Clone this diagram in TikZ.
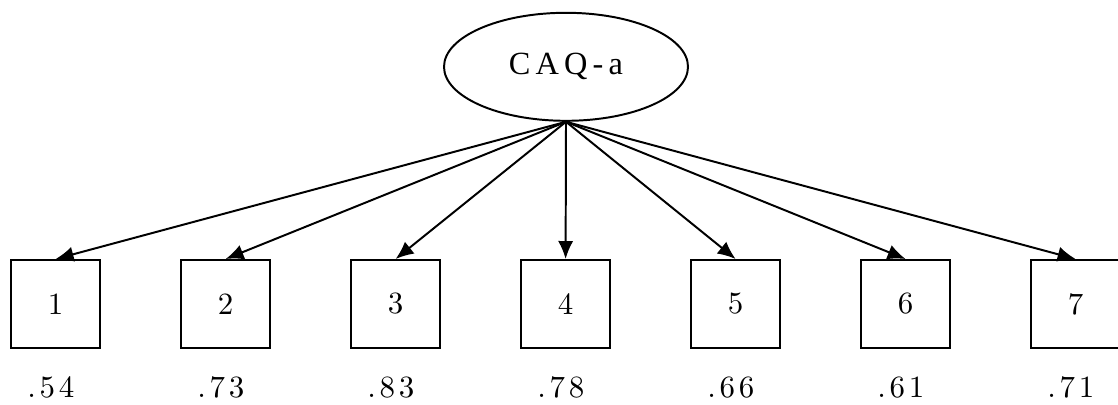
\documentclass[tikz,border=0pt]{standalone}
\usepackage{fontspec}
\usetikzlibrary{positioning,arrows.meta,shapes.geometric}
\setmainfont{lmroman10-regular.otf}
\newfontfamily\loadfont[LetterSpace=12]{lmroman10-regular.otf}
\newfontfamily\latentfont[LetterSpace=16]{Liberation Serif}
\newcommand{\caqitem}[3]{%
  \node[draw=black,line width=1.4pt,minimum width=2.225cm,minimum height=2.2cm,
        inner sep=0pt,font=\fontsize{22}{26}\selectfont] (i#1) at (#2,2.5) {#1};
  \node[font=\loadfont\fontsize{22}{26}\selectfont,xshift=-0.12cm]
        (l#1) at (#2,0.42) {#3};
  \draw[line width=1.4pt,-{Latex[length=0.45cm,width=0.38cm]}] (caq.south) -- (i#1.north);
}

\begin{document}
\begin{tikzpicture}
  \clip (0,0) rectangle (27.95,10.1);
  \useasboundingbox (0,0) rectangle (27.95,10.1);
  \node[draw=black,ellipse,line width=1.4pt,minimum width=6.1cm,minimum height=2.7cm,
        font=\latentfont\fontsize{23}{27}\selectfont]
        (caq) at (14.15,8.43) {CAQ-a};
  \caqitem{1}{1.39}{.54}
  \caqitem{2}{5.64}{.73}
  \caqitem{3}{9.89}{.83}
  \caqitem{4}{14.14}{.78}
  \caqitem{5}{18.39}{.66}
  \caqitem{6}{22.64}{.61}
  \caqitem{7}{26.89}{.71}
\end{tikzpicture}
\end{document}
